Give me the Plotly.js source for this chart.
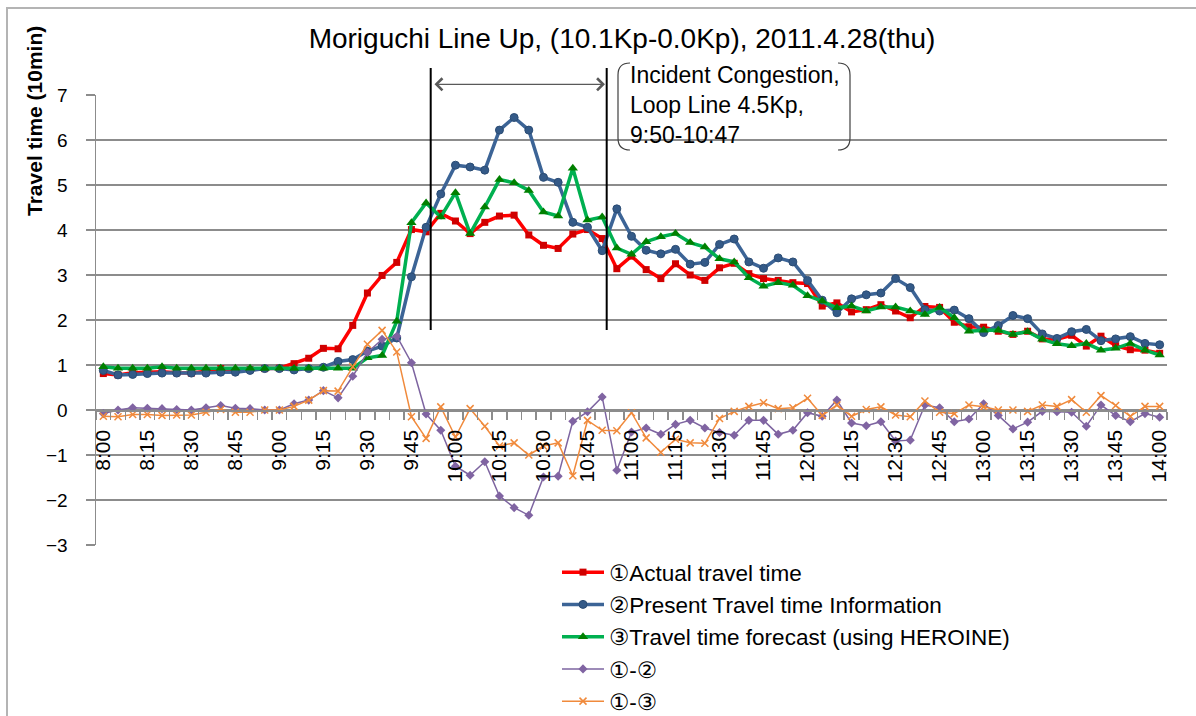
<!DOCTYPE html>
<html>
<head>
<meta charset="utf-8">
<script src="https://cdn.plot.ly/plotly-3.0.1.min.js"></script>
<style>
  html, body { margin: 0; padding: 0; background: #fff; overflow: hidden; }
  #wrap { position: relative; width: 1196px; height: 716px; }
  #chart { width: 1196px; height: 716px; }
  #frame { position: absolute; left: 6px; top: 7px; width: 2000px; height: 2000px;
           border-left: 2px solid #b4b4b4; border-top: 2px solid #b4b4b4; pointer-events: none; }
</style>
</head>
<body>
<div id="wrap"><div id="chart"></div><div id="frame"></div></div>
<script>
const categories = ["8:00","8:05","8:10","8:15","8:20","8:25","8:30","8:35","8:40","8:45","8:50","8:55",
  "9:00","9:05","9:10","9:15","9:20","9:25","9:30","9:35","9:40","9:45","9:50","9:55",
  "10:00","10:05","10:10","10:15","10:20","10:25","10:30","10:35","10:40","10:45","10:50","10:55",
  "11:00","11:05","11:10","11:15","11:20","11:25","11:30","11:35","11:40","11:45","11:50","11:55",
  "12:00","12:05","12:10","12:15","12:20","12:25","12:30","12:35","12:40","12:45","12:50","12:55",
  "13:00","13:05","13:10","13:15","13:20","13:25","13:30","13:35","13:40","13:45","13:50","13:55",
  "14:00"];

const actual = [0.81,0.78,0.83,0.84,0.85,0.83,0.82,0.86,0.92,0.87,0.90,0.92,
  0.93,1.03,1.15,1.37,1.36,1.88,2.60,2.99,3.28,4.01,3.96,4.37,
  4.20,3.92,4.17,4.31,4.33,3.89,3.66,3.59,3.91,4.01,3.81,3.14,
  3.42,3.12,2.92,3.25,3.00,2.88,3.16,3.26,3.03,2.92,2.88,2.83,
  2.81,2.31,2.38,2.18,2.23,2.34,2.20,2.05,2.30,2.28,1.95,1.85,
  1.84,1.75,1.68,1.75,1.58,1.57,1.66,1.42,1.64,1.43,1.34,1.33,
  1.26];

const present = [0.88,0.78,0.79,0.81,0.82,0.82,0.82,0.82,0.84,0.84,0.88,0.92,
  0.92,0.89,0.92,0.95,1.08,1.12,1.31,1.42,1.60,2.96,4.06,4.80,
  5.44,5.40,5.33,6.22,6.50,6.22,5.17,5.06,4.17,4.06,3.54,4.47,
  3.86,3.55,3.47,3.57,3.24,3.28,3.68,3.80,3.29,3.15,3.38,3.29,
  2.88,2.44,2.16,2.47,2.56,2.60,2.92,2.72,2.23,2.20,2.22,2.03,
  1.72,1.88,2.10,2.03,1.69,1.59,1.74,1.79,1.54,1.58,1.63,1.48,
  1.45];

const forecast = [0.96,0.93,0.93,0.93,0.96,0.93,0.93,0.93,0.93,0.93,0.93,0.92,
  0.93,0.92,0.93,0.93,0.93,0.93,1.16,1.21,1.97,4.16,4.60,4.29,
  4.83,3.92,4.51,5.12,5.05,4.88,4.40,4.31,5.37,4.22,4.29,3.60,
  3.46,3.74,3.85,3.92,3.72,3.62,3.36,3.29,2.94,2.75,2.83,2.77,
  2.54,2.42,2.27,2.31,2.20,2.29,2.29,2.20,2.12,2.28,2.05,1.75,
  1.77,1.77,1.68,1.74,1.57,1.47,1.43,1.48,1.33,1.37,1.48,1.33,
  1.22];

const diff12 = [-0.08,0.00,0.05,0.04,0.03,0.01,0.00,0.05,0.10,0.04,0.03,0.00,
  0.00,0.14,0.22,0.43,0.27,0.75,1.28,1.57,1.64,1.05,-0.09,-0.45,
  -1.25,-1.45,-1.15,-1.91,-2.17,-2.34,-1.49,-1.47,-0.25,-0.04,0.29,-1.34,
  -0.49,-0.40,-0.54,-0.32,-0.23,-0.40,-0.50,-0.56,-0.23,-0.23,-0.54,-0.45,
  -0.06,-0.14,0.22,-0.29,-0.35,-0.26,-0.69,-0.67,0.11,0.05,-0.26,-0.20,
  0.14,-0.12,-0.42,-0.27,-0.03,-0.04,-0.05,-0.36,0.11,-0.12,-0.26,-0.08,
  -0.16];

const diff13 = [-0.14,-0.15,-0.10,-0.10,-0.12,-0.11,-0.11,-0.05,0.01,-0.05,-0.05,0.00,
  0.00,0.08,0.22,0.43,0.42,0.96,1.46,1.77,1.29,-0.15,-0.63,0.07,
  -0.60,0.03,-0.36,-0.80,-0.73,-1.00,-0.80,-0.73,-1.46,-0.23,-0.45,-0.46,
  -0.06,-0.62,-0.94,-0.65,-0.73,-0.74,-0.19,-0.03,0.08,0.16,0.03,0.05,
  0.26,-0.12,0.11,-0.14,0.01,0.07,-0.11,-0.15,0.20,-0.05,-0.08,0.11,
  0.07,0.00,0.00,-0.03,0.11,0.08,0.23,-0.05,0.32,0.10,-0.14,0.08,
  0.08];

const seriesNames = ["\u2460Actual travel time", "\u2461Present Travel time Information",
  "\u2462Travel time forecast (using HEROINE)", "\u2460-\u2461", "\u2460-\u2462"];

const tickText = categories.map(c => (parseInt(c.split(":")[1], 10) % 15 === 0) ? c : "");

const FONT = '"Liberation Sans", Arial, "DejaVu Sans", sans-serif';
const GRID = '#8c8c8c';

const traces = [
  { name: seriesNames[0], x: categories, y: actual, type: 'scatter', mode: 'lines+markers',
    line: { color: '#FF0000', width: 3.5 }, marker: { symbol: 'square', size: 7, color: '#D00000' } },
  { name: seriesNames[1], x: categories, y: present, type: 'scatter', mode: 'lines+markers',
    line: { color: '#3C6496', width: 3.5 }, marker: { symbol: 'circle', size: 8, color: '#345A88', line: { color: '#2B4C74', width: 1 } } },
  { name: seriesNames[2], x: categories, y: forecast, type: 'scatter', mode: 'lines+markers',
    line: { color: '#00B050', width: 3.5 }, marker: { symbol: 'triangle-up', size: 9, color: '#008000' } },
  { name: seriesNames[3], x: categories, y: diff12, type: 'scatter', mode: 'lines+markers',
    line: { color: '#7D64A0', width: 1.5 }, marker: { symbol: 'diamond', size: 7, color: '#8064A2' } },
  { name: seriesNames[4], x: categories, y: diff13, type: 'scatter', mode: 'lines+markers',
    line: { color: '#F08A3C', width: 1.5 }, marker: { symbol: 'x-thin-open', size: 7, line: { color: '#984807', width: 1.5 } } }
];

const px = v => (v - 96) / 1071;
const py = v => (545 - v) / 450;

const bracketL = `M${px(630)},${py(63)} Q${px(618)},${py(63)} ${px(618)},${py(75)} L${px(618)},${py(138)} Q${px(618)},${py(150)} ${px(630)},${py(150)}`;
const bracketR = `M${px(838)},${py(63)} Q${px(850)},${py(63)} ${px(850)},${py(75)} L${px(850)},${py(138)} Q${px(850)},${py(150)} ${px(838)},${py(150)}`;

const layout = {
  width: 1196, height: 716,
  margin: { l: 96, r: 29, t: 95, b: 171, autoexpand: false },
  paper_bgcolor: '#ffffff', plot_bgcolor: '#ffffff',
  font: { family: FONT, color: '#000000' },
  title: { text: 'Moriguchi Line Up, (10.1Kp-0.0Kp), 2011.4.28(thu)', font: { size: 28, family: FONT, color: '#000' },
           x: 622 / 1196, xanchor: 'center', y: 1 - 38 / 716, yanchor: 'middle' },
  showlegend: true,
  legend: { x: px(557), y: py(551), xanchor: 'left', yanchor: 'top', font: { size: 22.5, family: FONT },
            itemwidth: 42, bgcolor: 'rgba(0,0,0,0)', traceorder: 'normal' },
  xaxis: {
    type: 'category', range: [-0.5, 72.5], tickmode: 'array', tickvals: categories, ticktext: tickText,
    tickson: 'boundaries', ticks: 'outside', ticklen: 8, tickwidth: 1.5, tickcolor: GRID,
    tickangle: -90, tickfont: { size: 21, family: FONT, color: '#000' }, ticklabelstandoff: 10,
    showline: true, linecolor: GRID, linewidth: 1.5, showgrid: false, zeroline: false,
    anchor: 'free', position: 0.3, automargin: false
  },
  yaxis: {
    range: [-3, 7], tickmode: 'linear', tick0: 0, dtick: 1,
    showgrid: true, gridcolor: GRID, gridwidth: 1.5, zeroline: false,
    showline: true, linecolor: GRID, linewidth: 1.5,
    ticks: 'outside', ticklen: 9, tickwidth: 1.5, tickcolor: GRID,
    tickfont: { size: 19, family: FONT, color: '#000' }, ticklabelstandoff: 14, automargin: false
  },
  shapes: [
    { type: 'line', xref: 'paper', yref: 'paper', x0: px(430.7), x1: px(430.7), y0: py(330), y1: py(68), line: { color: '#000', width: 2 } },
    { type: 'line', xref: 'paper', yref: 'paper', x0: px(606.7), x1: px(606.7), y0: py(330), y1: py(68), line: { color: '#000', width: 2 } },
    { type: 'path', xref: 'paper', yref: 'paper', path: bracketL, line: { color: '#404040', width: 1.2 } },
    { type: 'path', xref: 'paper', yref: 'paper', path: bracketR, line: { color: '#404040', width: 1.2 } }
  ],
  annotations: [
    { xref: 'paper', yref: 'paper', x: px(605), y: py(84.3), ax: -172, ay: 0, axref: 'pixel', ayref: 'pixel',
      text: '', showarrow: true, arrowside: 'end+start', arrowhead: 4, startarrowhead: 4,
      arrowsize: 1.8, startarrowsize: 1.8, arrowwidth: 1.3, arrowcolor: '#595959', standoff: 0, startstandoff: 0 },
    { xref: 'paper', yref: 'paper', x: px(628), y: py(60), xanchor: 'left', yanchor: 'top', align: 'left',
      text: 'Incident Congestion,<br>Loop Line 4.5Kp,<br>9:50-10:47', showarrow: false,
      font: { size: 23, family: FONT, color: '#000' } },
    { xref: 'paper', yref: 'paper', x: px(34), y: py(121), xanchor: 'center', yanchor: 'middle',
      text: '<b>Travel time (10min)</b>', textangle: -90, showarrow: false,
      font: { size: 21, family: FONT, color: '#000' } }
  ]
};

Plotly.newPlot('chart', traces, layout, { displayModeBar: false, staticPlot: true });
</script>
</body>
</html>
